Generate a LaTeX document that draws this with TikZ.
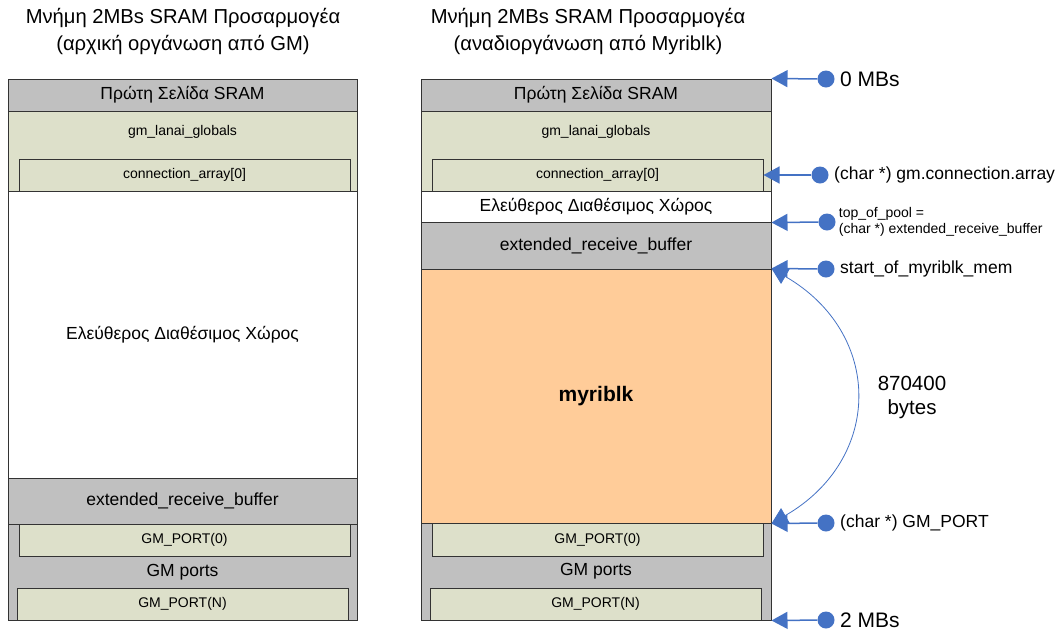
\documentclass[tikz,border=0pt]{standalone}
\usepackage{fontspec}
\setmainfont{Liberation Sans}
\usepackage{tikz}
\usetikzlibrary{
  arrows.meta,
  positioning,
}
\definecolor{segGrey}{HTML}{C0C0C0}
\definecolor{segGreen}{HTML}{DDE0CA}
\definecolor{segOrange}{HTML}{FFCC99}
\definecolor{segEdge}{HTML}{333333}
\definecolor{ptrBlue}{HTML}{4472C4}
\tikzset{
  seg/.style={
    rectangle, draw=segEdge, line width=1pt, inner sep=0pt,
    font=\fontsize{17.5}{21}\selectfont,
  },
  subseg/.style={
    seg, fill=segGreen, minimum width=331, minimum height=32,
    font=\fontsize{14}{17}\selectfont,
  },
  smallText/.style={font=\fontsize{14}{17}\selectfont, inner sep=0pt},
  titleText/.style={align=center, font=\fontsize{20.2}{27}\selectfont},
  ptrText/.style={font=\fontsize{17.5}{21}\selectfont},
  dot/.style={circle, fill=ptrBlue, inner sep=0pt, minimum size=17},
  ptr/.style={
    -{Triangle[length=16pt,width=17pt]}, draw=ptrBlue, line width=1.5pt,
  },
  span/.style={
    {Triangle[length=16pt,width=17pt]}-{Triangle[length=16pt,width=17pt]},
    draw=ptrBlue, line width=0.8pt,
  },
}

\begin{document}
\begin{tikzpicture}[x=1pt,y=-1pt]
\useasboundingbox (0,0) rectangle (1061,630);

% titles
\node[titleText] (titleL) at (183,31.5)
  {Μνήμη 2MBs SRAM Προσαρμογέα\\(αρχική οργάνωση από GM)};
\node[titleText] (titleR) at (588,31.5)
  {Μνήμη 2MBs SRAM Προσαρμογέα\\(αναδιοργάνωση από Myriblk)};

% left column: GM layout
\node[seg, fill=segGrey, minimum width=349, minimum height=32] (hdrL) at (182.5,95) {Πρώτη Σελίδα SRAM};
\node[seg, fill=segGreen, minimum width=349, minimum height=80] (globL) at (182.5,151) {};
\node[smallText] (globTxtL) at (182.5,132) {gm\_lanai\_globals};
\node[subseg] (connL) at (184.5,175) {connection\_array[0]};
\node[seg, fill=white, minimum width=349, minimum height=287] (freeL) at (182.5,334.5) {Ελεύθερος Διαθέσιμος Χώρος};
\node[seg, fill=segGrey, minimum width=349, minimum height=46] (extL) at (182.5,501) {extended\_receive\_buffer};
\node[seg, fill=segGrey, minimum width=349, minimum height=96] (portsL) at (182.5,572) {GM ports};
\node[subseg] (p0L) at (184.5,540) {GM\_PORT(0)};
\node[subseg] (pNL) at (182.5,604) {GM\_PORT(N)};

% right column: Myriblk layout
\node[seg, fill=segGrey, minimum width=350, minimum height=32] (hdrR) at (596,95) {Πρώτη Σελίδα SRAM};
\node[seg, fill=segGreen, minimum width=350, minimum height=80] (globR) at (596,151) {};
\node[smallText] (globTxtR) at (596,132) {gm\_lanai\_globals};
\node[subseg] (connR) at (597.5,175) {connection\_array[0]};
\node[seg, fill=white, minimum width=350, minimum height=31] (freeR) at (596,206.5) {Ελεύθερος Διαθέσιμος Χώρος};
\node[seg, fill=segGrey, minimum width=350, minimum height=47] (extR) at (596,245.5) {extended\_receive\_buffer};
\node[seg, fill=segOrange, minimum width=350, minimum height=254, font=\fontsize{21}{25}\selectfont\bfseries] (myrR) at (596,396) {myriblk};
\node[seg, fill=segGrey, minimum width=350, minimum height=97] (portsR) at (596,571.5) {GM ports};
\node[subseg, minimum height=33] (p0R) at (597.5,539.5) {GM\_PORT(0)};
\node[subseg] (pNR) at (595.5,604) {GM\_PORT(N)};

% pointers
\node[dot] (d0) at (826,79) {};
\node[dot] (dC) at (820,175) {};
\node[dot] (dT) at (827,222) {};
\node[dot] (dS) at (826,269) {};
\node[dot] (dG) at (826,523) {};
\node[dot] (d2) at (826,620) {};

\node[ptrText, font=\fontsize{21}{25}\selectfont, right=2pt of d0] (t0) {0 MBs};
\node[ptrText, right=2pt of dC] (tC) {(char *) gm.connection.array};
\node[smallText, align=left, right=3pt of dT, font=\fontsize{14}{16}\selectfont] (tT)
  {top\_of\_pool =\\(char *) extended\_receive\_buffer};
\node[ptrText, right=2pt of dS] (tS) {start\_of\_myriblk\_mem};
\node[ptrText, right=2pt of dG] (tG) {(char *) GM\_PORT};
\node[ptrText, font=\fontsize{21}{25}\selectfont, right=2pt of d2] (t2) {2 MBs};

\draw[ptr] (d0) -- (hdrR.north east);
\draw[ptr] (dC) -- (connR.east);
\draw[ptr] (dT) -- (freeR.south east);
\draw[ptr] (dS) -- (myrR.north east);
\draw[ptr] (dG) -- (myrR.south east);
\draw[ptr] (d2) -- (portsR.south east);

\draw[span] (myrR.north east) to[out=-30,in=30,looseness=1.3] (myrR.south east);
\node[ptrText, align=center, font=\fontsize{20.5}{24}\selectfont] (size) at (912,397) {870400\\bytes};
\end{tikzpicture}
\end{document}
